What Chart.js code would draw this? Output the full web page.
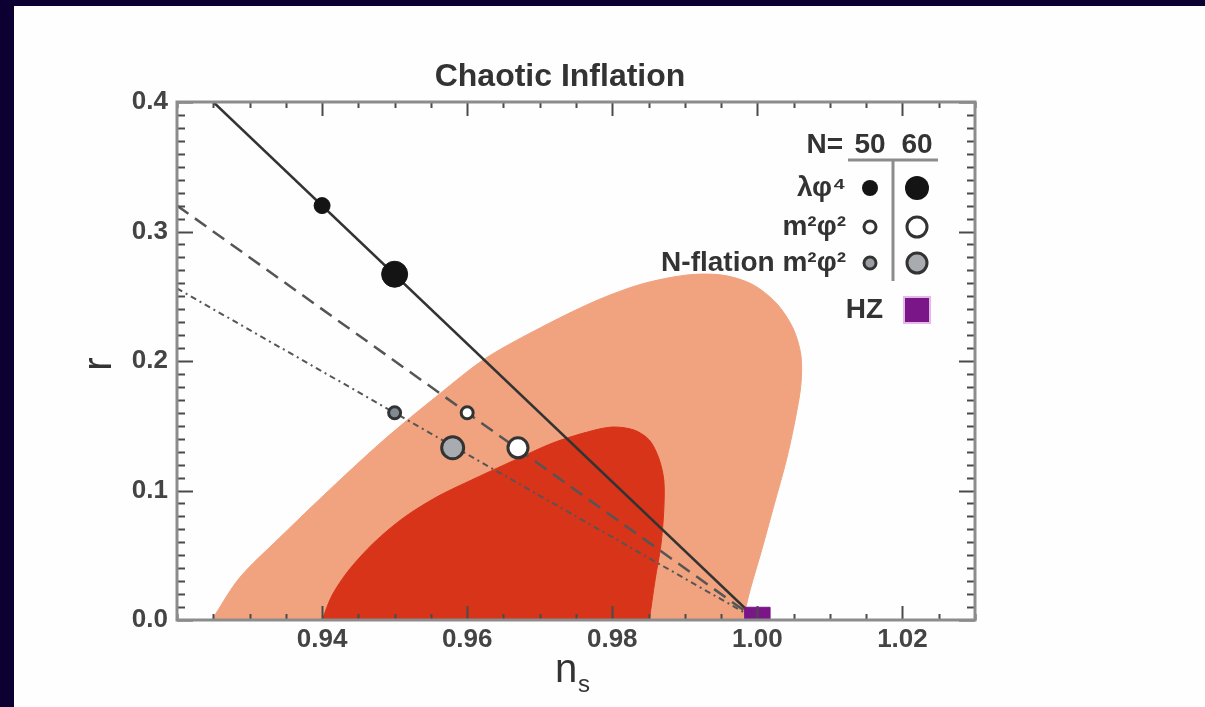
<!DOCTYPE html>
<html>
<head>
<meta charset="utf-8">
<script src="https://cdn.jsdelivr.net/npm/chart.js@4.4.0/dist/chart.umd.min.js"></script>
<style>
html,body{margin:0;padding:0;background:#0c0033;overflow:hidden;}
#panel{position:absolute;left:14px;top:6px;right:0;bottom:0;background:#fefefe;}
#chart{position:absolute;left:0;top:0;}
</style>
</head>
<body>
<div id="panel"></div>
<canvas id="chart" width="1205" height="707"></canvas>
<script>
// axis setup
const xMin = 0.92, xMax = 1.03;
const yMin = 0, yMax = 0.4;
const xTicks = [0.94, 0.96, 0.98, 1.00, 1.02];
const yTicks = [0.0, 0.1, 0.2, 0.3, 0.4];

// model predictions (N=50, N=60)
const nsLambda = [0.94, 0.95];
const rLambda = [0.32, 0.267];
const nsM2 = [0.96, 0.967];
const rM2 = [0.16, 0.133];
const nsNflat = [0.95, 0.958];
const rNflat = [0.16, 0.133];

// model lines
const lambdaLineNs = [0.925, 1.0];
const lambdaLineR = [0.4, 0.0];
const m2LineNs = [0.92, 1.0];
const m2LineR = [0.32, 0.0];
const nflatLineNs = [0.92, 1.0];
const nflatLineR = [0.256, 0.0];

// Harrison-Zeldovich
const hzNs = [1.0];
const hzR = [0.0];

// 95% contour
const c95Ns = [0.9248, 0.9286, 0.9341, 0.941, 0.9485, 0.956, 0.9626, 0.9711, 0.978, 0.9841, 0.9903, 0.9951, 0.9992, 1.0026, 1.0049, 1.006, 1.006, 1.0052, 1.004, 1.0023, 1.0006, 0.999, 0.998];
const c95R = [0, 0.0324, 0.0633, 0.1004, 0.139, 0.1737, 0.2023, 0.2286, 0.2471, 0.2595, 0.2664, 0.2664, 0.2595, 0.2448, 0.2255, 0.2046, 0.1815, 0.1544, 0.1236, 0.0888, 0.0541, 0.0232, 0];

// 68% contour
const c68Ns = [0.94, 0.9414, 0.9437, 0.9471, 0.9512, 0.9558, 0.9606, 0.9666, 0.9718, 0.9766, 0.98, 0.983, 0.9851, 0.9864, 0.9871, 0.9871, 0.9867, 0.9859, 0.9851];
const c68R = [0, 0.0193, 0.0386, 0.0595, 0.0788, 0.095, 0.1081, 0.1236, 0.1367, 0.1452, 0.149, 0.1467, 0.139, 0.1251, 0.1081, 0.0849, 0.0579, 0.0309, 0];

const pts = (xs, ys) => xs.map((v, i) => ({x: v, y: ys[i]}));
const bySize = (small, big) => c => c.dataIndex === 0 ? small : big;

const FONT = "'Liberation Sans', Arial, sans-serif";
const minorX = 0.005, minorY = 0.01;

const decor = {
  id: 'decor',
  afterDraw(chart) {
    const {ctx, chartArea: a, scales: {x, y}} = chart;
    ctx.save();

    // inward ticks on all four sides
    ctx.strokeStyle = '#4a4a4a';
    ctx.lineWidth = 2;
    ctx.beginPath();
    for (let i = 0; ; i++) {
      const v = xMin + i * minorX;
      if (v > xMax + 1e-9) break;
      const px = Math.round(x.getPixelForValue(v)) + 0.5;
      const major = xTicks.some(t => Math.abs(t - v) < 1e-6);
      const len = major ? 14 : 6;
      ctx.moveTo(px, a.bottom); ctx.lineTo(px, a.bottom - len);
      ctx.moveTo(px, a.top); ctx.lineTo(px, a.top + len);
    }
    for (let i = 0; ; i++) {
      const v = yMin + i * minorY;
      if (v > yMax + 1e-9) break;
      const py = Math.round(y.getPixelForValue(v)) + 0.5;
      const major = yTicks.some(t => Math.abs(t - v) < 1e-6);
      const len = major ? 16 : 8;
      ctx.moveTo(a.left, py); ctx.lineTo(a.left + len, py);
      ctx.moveTo(a.right, py); ctx.lineTo(a.right - len, py);
    }
    ctx.stroke();

    // frame
    ctx.strokeStyle = '#8c8c8c';
    ctx.lineWidth = 3;
    ctx.strokeRect(a.left, a.top, a.right - a.left, a.bottom - a.top);

    // title
    ctx.fillStyle = '#333';
    ctx.textAlign = 'center';
    ctx.textBaseline = 'middle';
    ctx.font = 'bold 32px ' + FONT;
    ctx.fillText('Chaotic Inflation', (a.left + a.right) / 2 - 16, 77);

    // axis titles
    ctx.font = '40px ' + FONT;
    ctx.textBaseline = 'alphabetic';
    ctx.textAlign = 'left';
    ctx.fillText('n', 555, 682);
    ctx.font = '24px ' + FONT;
    ctx.fillText('s', 578, 692);

    ctx.save();
    ctx.translate(111, 364);
    ctx.rotate(-Math.PI / 2);
    ctx.font = '40px ' + FONT;
    ctx.textAlign = 'center';
    ctx.fillText('r', 0, 0);
    ctx.restore();

    // legend
    ctx.fillStyle = '#333';
    ctx.font = 'bold 28px ' + FONT;
    ctx.textBaseline = 'middle';
    ctx.textAlign = 'right';
    ctx.fillText('N=', 843, 145);
    ctx.textAlign = 'center';
    ctx.fillText('50', 870, 145);
    ctx.fillText('60', 917, 145);
    ctx.textAlign = 'right';
    ctx.fillText('\u03bb\u03c6\u2074', 846, 188);
    ctx.fillText('m\u00b2\u03c6\u00b2', 846, 227);
    ctx.fillText('N-flation m\u00b2\u03c6\u00b2', 846, 263);
    ctx.fillText('HZ', 883, 310);

    ctx.strokeStyle = '#8c8c8c';
    ctx.lineWidth = 3;
    ctx.beginPath();
    ctx.moveTo(848, 160); ctx.lineTo(938, 160);
    ctx.moveTo(893, 160); ctx.lineTo(893, 281);
    ctx.stroke();

    const dot = (cx, cy, r, fill, stroke, lw) => {
      ctx.beginPath();
      ctx.arc(cx, cy, r, 0, Math.PI * 2);
      ctx.fillStyle = fill;
      ctx.fill();
      if (stroke) { ctx.strokeStyle = stroke; ctx.lineWidth = lw; ctx.stroke(); }
    };
    dot(870, 188, 8, '#141414');
    dot(917, 188, 12, '#141414');
    dot(870, 227, 6, '#ffffff', '#333', 3);
    dot(917, 227, 10, '#ffffff', '#333', 3);
    dot(870, 263, 6, '#9a9ea2', '#333', 3);
    dot(917, 263, 10, '#a8acb0', '#333', 3);
    ctx.fillStyle = '#e6b8e8';
    ctx.fillRect(903, 296, 28, 28);
    ctx.fillStyle = '#7a1687';
    ctx.fillRect(905, 298, 24, 24);

    ctx.restore();
  }
};

new Chart(document.getElementById('chart'), {
  type: 'scatter',
  data: {
    datasets: [
      {
        data: pts(hzNs, hzR), pointStyle: 'rect', pointRadius: 18,
        backgroundColor: '#7a1687', borderColor: '#7a1687', borderWidth: 1,
        clip: 0, order: 0
      },
      {
        data: pts(nsLambda, rLambda), pointRadius: bySize(8, 13),
        backgroundColor: '#141414', borderColor: '#141414', borderWidth: 1, order: 1
      },
      {
        data: pts(nsM2, rM2), pointRadius: bySize(6, 10),
        backgroundColor: '#ffffff', borderColor: '#333', borderWidth: 3, order: 1
      },
      {
        data: pts(nsNflat, rNflat), pointRadius: bySize(6, 11),
        backgroundColor: c => c.dataIndex === 0 ? '#7f8a92' : '#a8acb0',
        borderColor: '#333', borderWidth: 3, order: 1
      },
      {
        data: pts(lambdaLineNs, lambdaLineR), showLine: true, pointRadius: 0,
        borderColor: '#333', borderWidth: 2.5, order: 5
      },
      {
        data: pts(m2LineNs, m2LineR), showLine: true, pointRadius: 0,
        borderColor: '#555', borderWidth: 2.5, borderDash: [14, 8], order: 5
      },
      {
        data: pts(nflatLineNs, nflatLineR), showLine: true, pointRadius: 0,
        borderColor: '#555', borderWidth: 2, borderDash: [6, 4, 2, 4], order: 5
      },
      {
        data: pts(c68Ns, c68R), showLine: true, pointRadius: 0, tension: 0.3,
        fill: 'shape', backgroundColor: '#d8341a', borderColor: '#d8341a', borderWidth: 1, order: 19
      },
      {
        data: pts(c95Ns, c95R), showLine: true, pointRadius: 0, tension: 0.3,
        fill: 'shape', backgroundColor: '#f1a27e', borderColor: '#f1a27e', borderWidth: 1, order: 20
      }
    ]
  },
  options: {
    responsive: false,
    animation: false,
    devicePixelRatio: 1,
    layout: {padding: {left: 97, right: 230, top: 102, bottom: 37}},
    plugins: {legend: {display: false}, title: {display: false}, tooltip: {enabled: false}},
    scales: {
      x: {
        type: 'linear', min: xMin, max: xMax,
        afterBuildTicks: s => { s.ticks = xTicks.map(v => ({value: v})); },
        afterFit: s => { s.height = 50; },
        grid: {display: false, drawTicks: false},
        border: {display: false},
        ticks: {
          padding: 4, color: '#444',
          font: {family: FONT, size: 26, weight: 'bold'},
          callback: v => v.toFixed(2)
        }
      },
      y: {
        type: 'linear', min: yMin, max: yMax,
        afterBuildTicks: s => { s.ticks = yTicks.map(v => ({value: v})); },
        afterFit: s => { s.width = 80; },
        grid: {display: false, drawTicks: false},
        border: {display: false},
        ticks: {
          padding: 9, color: '#444',
          font: {family: FONT, size: 26, weight: 'bold'},
          callback: v => v.toFixed(1)
        }
      }
    }
  },
  plugins: [decor]
});
</script>
</body>
</html>
